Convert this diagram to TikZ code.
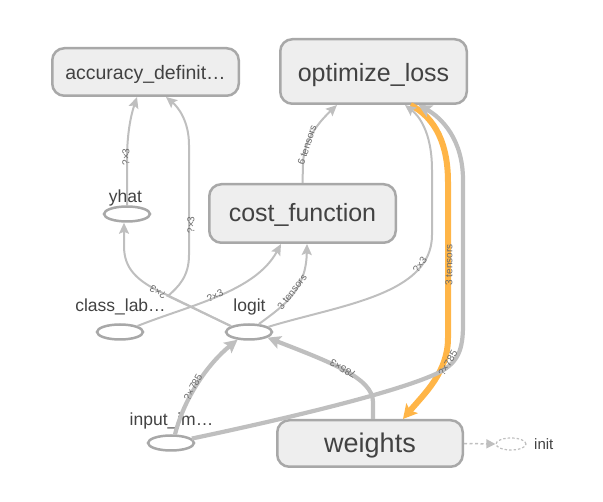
\documentclass[tikz,border=0pt]{standalone}
\usepackage{fontspec}
\setmainfont{Liberation Sans}
\usetikzlibrary{arrows.meta,shapes.geometric}
\definecolor{boxfill}{HTML}{EEEEEE}
\definecolor{boxline}{HTML}{A8A8A8}
\definecolor{edgegray}{HTML}{BFBFBF}
\definecolor{txt}{HTML}{424242}
\definecolor{lbl}{HTML}{6A6A6A}
\definecolor{orangeedge}{HTML}{FFB547}
\begin{document}
\begin{tikzpicture}[x=1pt,y=-1pt,
  opbox/.style={draw=boxline, fill=boxfill, line width=2.5pt, rounded corners=12pt, inner sep=0pt, text=txt},
  tensor/.style={ellipse, draw=boxline, line width=2.5pt, minimum width=46pt, minimum height=15pt, inner sep=0pt},
  nlabel/.style={anchor=base, text=txt, font=\fontsize{17.5}{20}\selectfont},
  elabel/.style={text=lbl, font=\fontsize{10}{12}\selectfont, inner sep=0pt},
  thinedge/.style={draw=edgegray, line width=2pt, -{Stealth[length=11pt,width=10pt,inset=2pt]}},
  thickedge/.style={draw=edgegray, line width=4.2pt, -{Stealth[length=13pt,width=13pt,inset=2.5pt]}},
  refedge/.style={draw=orangeedge, line width=6pt, -{Stealth[length=14pt,width=15pt,inset=3pt]}}
]
\useasboundingbox (0,0) rectangle (603,502);

% operation boxes
\node[opbox, minimum width=186.5pt, minimum height=47.5pt, text height=18pt, text depth=2pt,
      font=\fontsize{19.5}{22}\selectfont] (acc) at (145.5,72) {accuracy\_definit…};
\node[opbox, minimum width=186.5pt, minimum height=64.5pt, text height=24pt, text depth=3.6pt,
      font=\fontsize{25}{30}\selectfont] (opt) at (373.5,71.5) {optimize\_loss};
\node[opbox, minimum width=186.5pt, minimum height=58.5pt, text height=21pt, text depth=4pt,
      font=\fontsize{25}{30}\selectfont] (cost) at (302.5,213.5) {cost\_function};
\node[opbox, minimum width=185.5pt, minimum height=46.5pt, text height=23pt, text depth=4pt,
      font=\fontsize{27}{32}\selectfont] (weights) at (370,443.5) {weights};

% tensor ellipses
\node[tensor] (yhat) at (127,214) {};
\node[tensor] (classlab) at (120,332) {};
\node[tensor] (logit) at (249,332) {};
\node[tensor] (input) at (171,443) {};
\node[ellipse, draw=edgegray, dashed, dash pattern=on 2.5pt off 2pt, line width=1.2pt,
      minimum width=30pt, minimum height=12pt, inner sep=0pt] (init) at (511,444) {};

% names
\node[nlabel] (tyhat) at (125.5,203) {yhat};
\node[nlabel] (tclass) at (120.5,312) {class\_lab…};
\node[nlabel] (tlogit) at (249.5,312) {logit};
\node[nlabel] (tinput) at (171.5,426) {input\_im…};
\node[anchor=west, text=txt, font=\fontsize{15}{18}\selectfont, inner sep=0pt] (tinit) at (534,444) {init};

% edges
\draw[refedge] ([xshift=37pt]opt.south) .. controls (436,118) and (448,145) .. (448,182)
   -- (448,338) .. controls (448,372) and (425,393) .. ([xshift=33pt]weights.north);

\draw[thinedge] (yhat.north) -- (127,160) .. controls (127,130) and (132,112) .. ([xshift=-8.5pt]acc.south);
\draw[thinedge] (logit.162) -- (168,296) .. controls (178,287) and (189,277) .. (189,255)
   -- (189,145) .. controls (189,121) and (178,107) .. ([xshift=20.5pt]acc.south);
\draw[thinedge] (logit.162) -- (165,294) .. controls (136,281) and (124,268) .. (124,246)
   -- ([xshift=-3pt]yhat.south);
\draw[thinedge] (classlab.19) .. controls (190,305) and (255,292) .. ([xshift=-21.5pt]cost.south);
\draw[thinedge] (logit.39) .. controls (285,305) and (306,290) .. ([xshift=4.5pt]cost.south);
\draw[thinedge] (logit.15) .. controls (340,305) and (432,295) .. (432,235)
   -- (432,170) .. controls (432,131) and (418,115) .. ([xshift=31.5pt]opt.south);
\draw[thinedge] (cost.north) -- (303,165) .. controls (303,140) and (320,121) .. ([xshift=-36.5pt]opt.south);

\draw[thickedge] (input.65) .. controls (185,395) and (210,362) .. (logit.214);
\draw[thickedge] ([xshift=3pt]weights.north) -- (373,402) .. controls (373,378) and (330,362) .. (logit.343);
\draw[thickedge] (input.12) .. controls (280,420) and (400,392) .. (440,372)
   .. controls (458,362) and (463,350) .. (463,325) -- (463,180)
   .. controls (463,140) and (442,118) .. ([xshift=45pt]opt.south);

\draw[draw=edgegray, line width=1.5pt, dash pattern=on 3pt off 2.5pt,
      -{Triangle[length=9pt,width=9pt]}] (weights.east) -- (init.west);

% edge labels
\node[elabel, rotate=90] (l1) at (126,157) {?×3};
\node[elabel, rotate=90] (l2) at (191,225) {?×3};
\node[elabel, rotate=150] (l3) at (158,292) {?×3};
\node[elabel, rotate=25] (l4) at (215,296) {?×3};
\node[elabel, rotate=52] (l5) at (292,292) {3 tensors};
\node[elabel, rotate=55] (l6) at (420,265) {?×3};
\node[elabel, rotate=72] (l7) at (307,145) {6 tensors};
\node[elabel, rotate=62] (l8) at (193,387) {?×785};
\node[elabel, rotate=151] (l9) at (343,369) {785×3};
\node[elabel, rotate=90] (l10) at (449,265) {3 tensors};
\node[elabel, rotate=60] (l11) at (448,363) {?×785};
\end{tikzpicture}
\end{document}
